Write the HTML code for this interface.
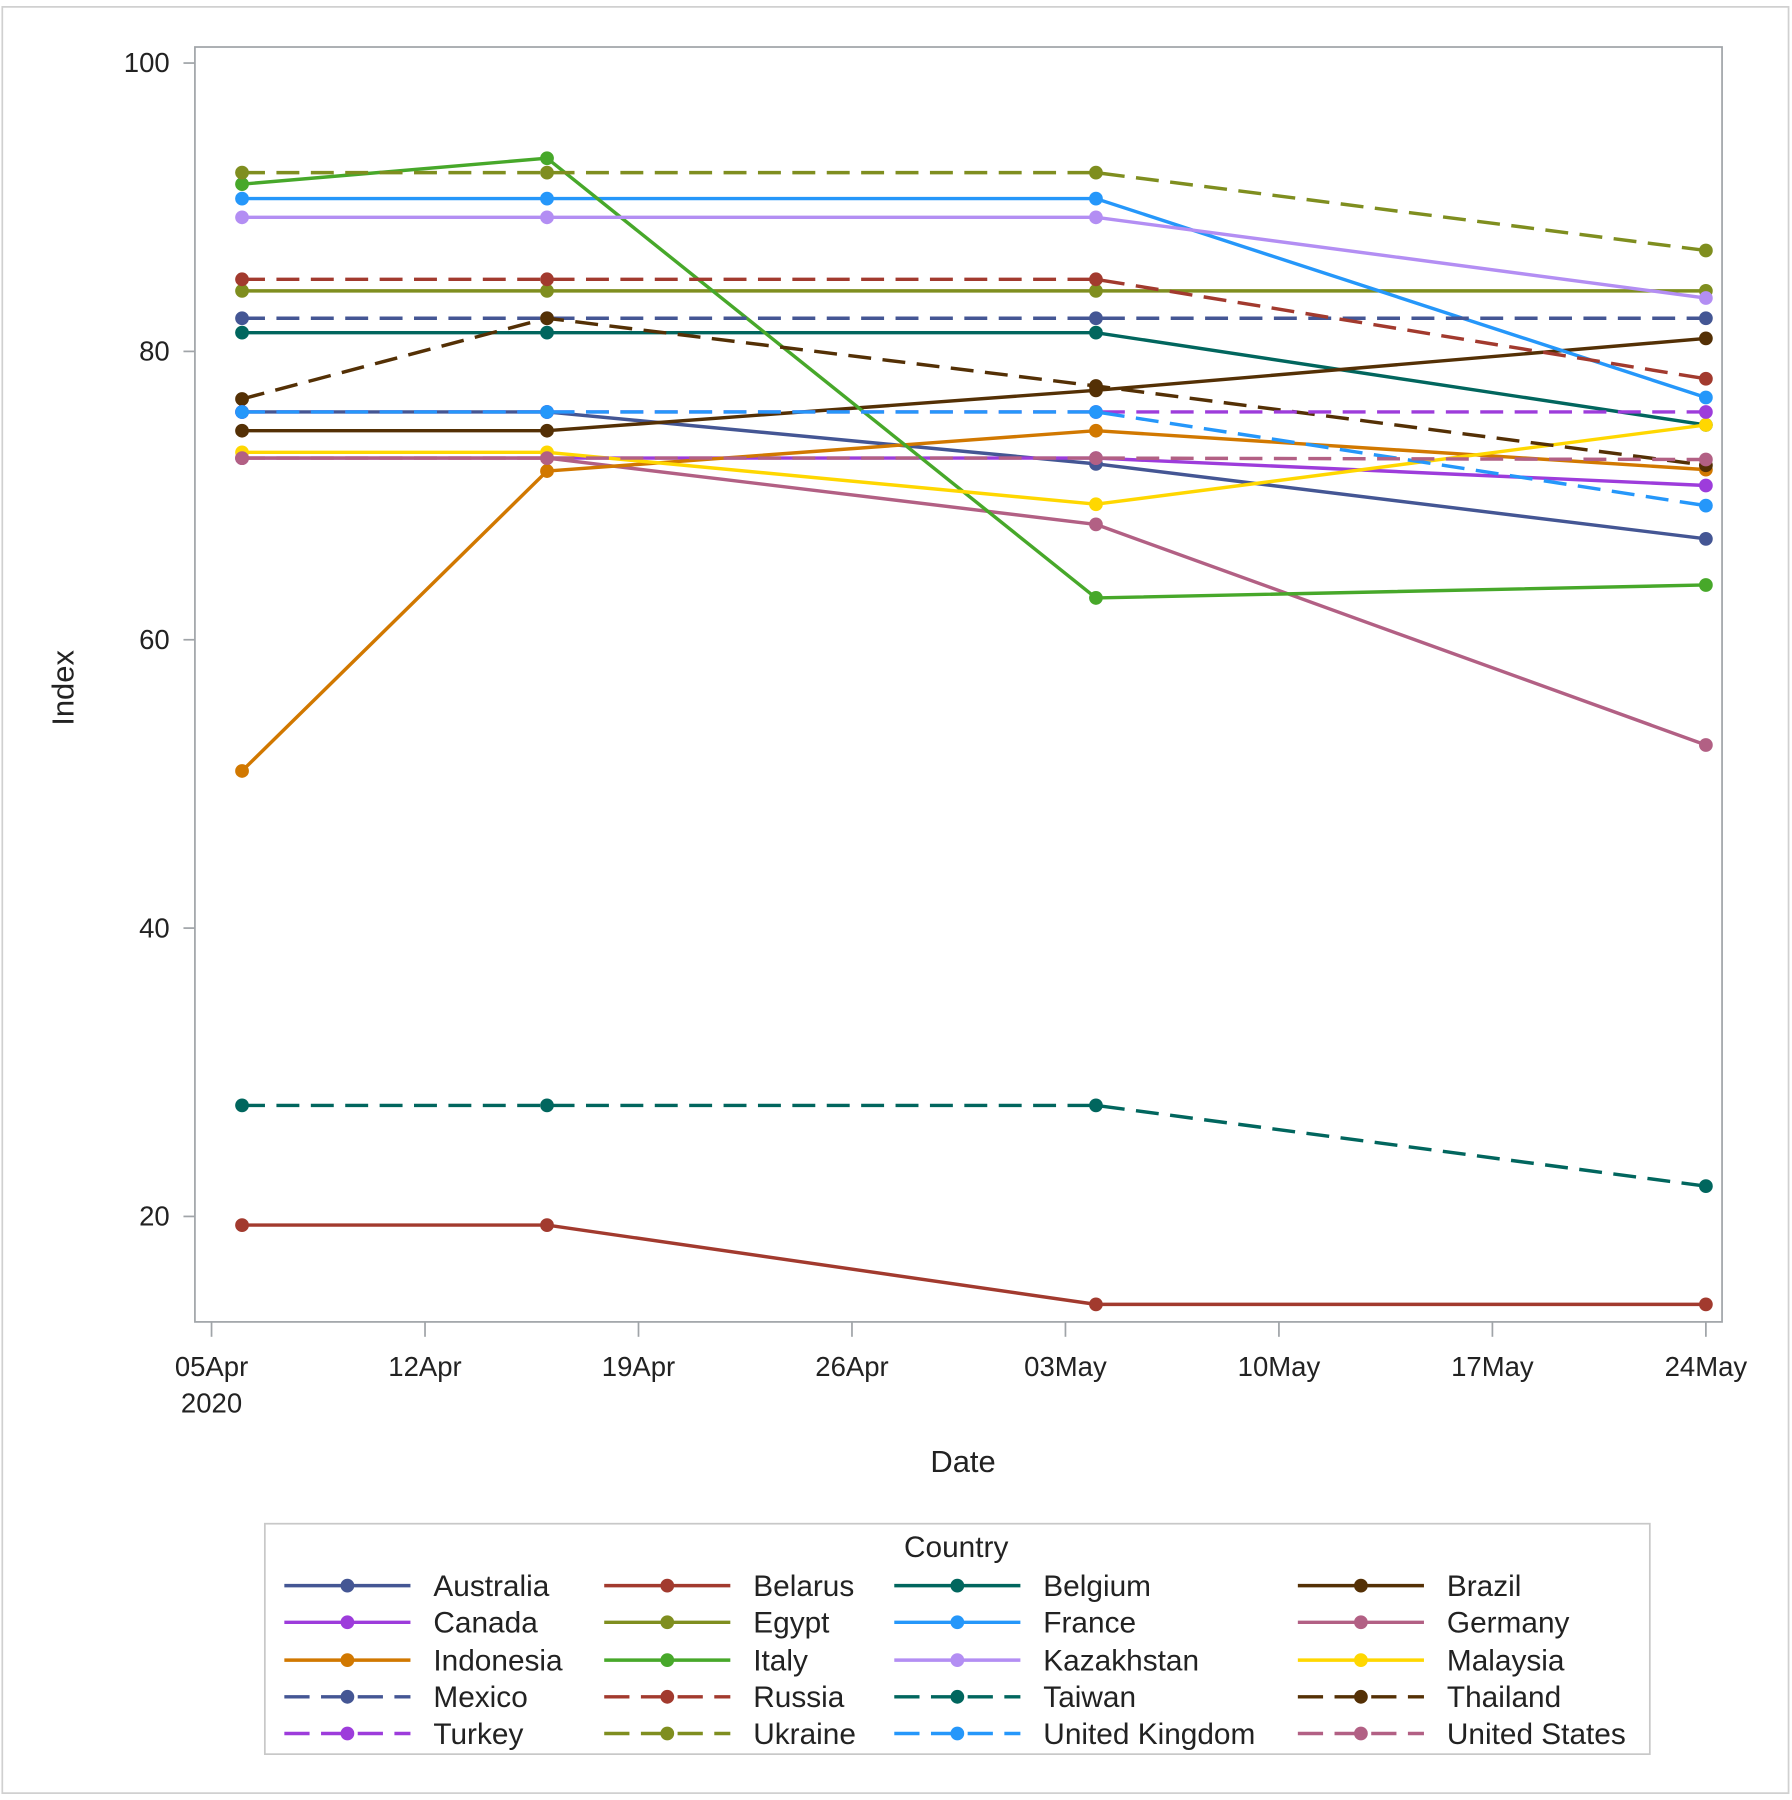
<!DOCTYPE html>
<html><head><meta charset="utf-8"><style>
html,body{margin:0;padding:0;background:#fff}
svg{display:block;font-family:"Liberation Sans",Arial,sans-serif}
</style></head><body>
<svg id="chart" width="1792" height="1800" viewBox="0 0 1563 1570" xmlns="http://www.w3.org/2000/svg">
<rect x="2" y="6" width="1558" height="1558" fill="#fff" stroke="#d0d0d0" stroke-width="1.5"/>
<g id="grid"></g>
<g id="series"></g>
<rect x="170" y="41" width="1332" height="1112" fill="none" stroke="#a0a4a8" stroke-width="1.5"/>
<text x="840" y="1284" font-size="27" text-anchor="middle" fill="#222">Date</text>
<text transform="translate(64,600) rotate(-90)" font-size="27" text-anchor="middle" fill="#222">Index</text>
<g id="legend">
<rect x="231" y="1329" width="1208" height="201" fill="#fff" stroke="#c8c8c8" stroke-width="1.5"/>
<text x="834" y="1358" font-size="26" text-anchor="middle" fill="#222">Country</text>
</g>
</svg>
<script>
const countries=["Australia","Belarus","Belgium","Brazil","Canada","Egypt","France","Germany","Indonesia","Italy","Kazakhstan","Malaysia","Mexico","Russia","Taiwan","Thailand","Turkey","Ukraine","United Kingdom","United States"];
const colors=["#445694","#A23A2E","#01665E","#543005","#9D3CDB","#7F8E1F","#2597FA","#B26084","#D17800","#47A82A","#B38EF3","#FFD700","#445694","#A23A2E","#01665E","#543005","#9D3CDB","#7F8E1F","#2597FA","#B26084"];
const dashed=[false,false,false,false,false,false,false,false,false,false,false,false,true,true,true,true,true,true,true,true];
const dates=[1,11,29,49]; // days after 05Apr2020
const valAustralia=[75.8,75.8,72.2,67.0];
const valBelarus=[19.4,19.4,13.9,13.9];
const valBelgium=[81.3,81.3,81.3,74.9];
const valBrazil=[74.5,74.5,77.3,80.9];
const valCanada=[72.6,72.6,72.6,70.7];
const valEgypt=[84.2,84.2,84.2,84.2];
const valFrance=[90.6,90.6,90.6,76.8];
const valGermany=[72.6,72.6,68.0,52.7];
const valIndonesia=[50.9,71.7,74.5,71.8];
const valItaly=[91.6,93.4,62.9,63.8];
const valKazakhstan=[89.3,89.3,89.3,83.7];
const valMalaysia=[73.0,73.0,69.4,74.9];
const valMexico=[82.3,82.3,82.3,82.3];
const valRussia=[85.0,85.0,85.0,78.1];
const valTaiwan=[27.7,27.7,27.7,22.1];
const valThailand=[76.7,82.3,77.6,72.1];
const valTurkey=[75.8,75.8,75.8,75.8];
const valUkraine=[92.4,92.4,92.4,87.0];
const valUK=[75.8,75.8,75.8,69.3];
const valUS=[72.6,72.6,72.6,72.5];
const seriesValues=[valAustralia,valBelarus,valBelgium,valBrazil,valCanada,valEgypt,valFrance,valGermany,valIndonesia,valItaly,valKazakhstan,valMalaysia,valMexico,valRussia,valTaiwan,valThailand,valTurkey,valUkraine,valUK,valUS];
const yTicks=[20,40,60,80,100];
const xTickDays=[0,7,14,21,28,35,42,49];
const xTickLabels=["05Apr","12Apr","19Apr","26Apr","03May","10May","17May","24May"];

const NS="http://www.w3.org/2000/svg";
const sx=d=>184.5+d*26.6;
const sy=v=>55+(100-v)*12.575;
function mk(tag,attrs,parent){const e=document.createElementNS(NS,tag);for(const k in attrs)e.setAttribute(k,attrs[k]);parent.appendChild(e);return e;}
const grid=document.getElementById('grid');
yTicks.forEach(t=>{
  const l=mk('line',{x1:160,x2:170,y1:sy(t),y2:sy(t),stroke:'#a0a4a8','stroke-width':1.5},grid);
  
  
  const tx=mk('text',{x:148,y:sy(t)+8,'font-size':24,'text-anchor':'end',fill:'#222'},grid);
  tx.textContent=t;
  
  
});
xTickDays.forEach((d,i)=>{
  const l=mk('line',{x1:sx(d),x2:sx(d),y1:1153,y2:1166,stroke:'#a0a4a8','stroke-width':1.5},grid);
  
  
  const tx=mk('text',{x:sx(d),y:1200,'font-size':24,'text-anchor':'middle',fill:'#222'},grid);
  tx.textContent=xTickLabels[i];
  
  
});
const yr=mk('text',{x:sx(0),y:1232,'font-size':24,'text-anchor':'middle',fill:'#222'},grid);
yr.textContent="2020";



const sg=document.getElementById('series');
seriesValues.forEach((vals,i)=>{
  const g=mk('g',{},sg);
  
  
  const pts=vals.map((v,j)=>sx(dates[j])+','+sy(v)).join(' ');
  const a={points:pts,fill:'none',stroke:colors[i],'stroke-width':3,'stroke-linejoin':'round'};
  if(dashed[i])a['stroke-dasharray']='20 10';
  const pl=mk('polyline',a,g);
  
  
  vals.forEach((v,j)=>{
    const c=mk('circle',{cx:sx(dates[j]),cy:sy(v),r:6,fill:colors[i]},g);
    
    
  });
});

const lg=document.getElementById('legend');
const colX=[248,527,780,1132];
const rowY=[1383,1415,1448,1480,1512];
countries.forEach((n,i)=>{
  const r=Math.floor(i/4),c=i%4;
  const x=colX[c],y=rowY[r];
  const g=mk('g',{},lg);
  
  
  const a={x1:x,x2:x+110,y1:y,y2:y,stroke:colors[i],'stroke-width':3};
  if(dashed[i])a['stroke-dasharray']='22 10';
  mk('line',a,g);
  mk('circle',{cx:x+55,cy:y,r:6,fill:colors[i]},g);
  const t=mk('text',{x:x+130,y:y+9,'font-size':26,fill:'#222'},g);
  t.textContent=n;
});
</script>
</body></html>
